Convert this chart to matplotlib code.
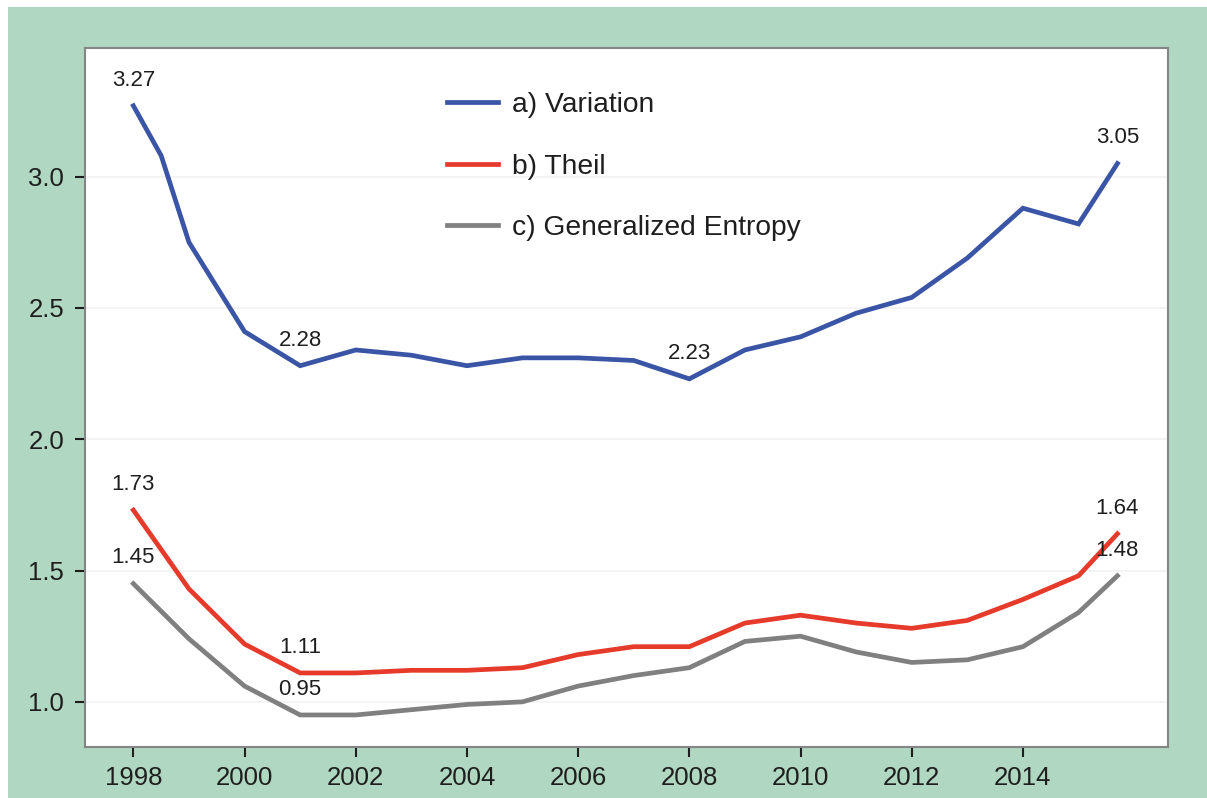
import matplotlib
matplotlib.use('Agg')
import matplotlib.pyplot as plt
from matplotlib.patches import Rectangle

# data
years_var = [1998, 1998.5, 1999, 2000, 2001, 2002, 2003, 2004, 2005, 2006, 2007,
             2008, 2009, 2010, 2011, 2012, 2013, 2014, 2015, 2015.7]
variation = [3.27, 3.08, 2.75, 2.41, 2.28, 2.34, 2.32, 2.28, 2.31, 2.31, 2.30,
             2.23, 2.34, 2.39, 2.48, 2.54, 2.69, 2.88, 2.82, 3.05]

years = [1998, 1999, 2000, 2001, 2002, 2003, 2004, 2005, 2006, 2007, 2008,
         2009, 2010, 2011, 2012, 2013, 2014, 2015, 2015.7]
theil = [1.73, 1.43, 1.22, 1.11, 1.11, 1.12, 1.12, 1.13, 1.18, 1.21, 1.21,
         1.30, 1.33, 1.30, 1.28, 1.31, 1.39, 1.48, 1.64]
gen_entropy = [1.45, 1.24, 1.06, 0.95, 0.95, 0.97, 0.99, 1.00, 1.06, 1.10, 1.13,
               1.23, 1.25, 1.19, 1.15, 1.16, 1.21, 1.34, 1.48]

labels = ['a) Variation', 'b) Theil', 'c) Generalized Entropy']
colors = ['#3b55a6', '#e63a2b', '#808080']

# which points get a value label (index into each series)
marked_var = [0, 4, 11, 19]
marked_theil = [0, 3, 18]
marked_ge = [0, 3, 18]

x_ticks = list(range(1998, 2015, 2))
y_ticks = [1.0, 1.5, 2.0, 2.5, 3.0]

plt.rcParams['font.family'] = ['Liberation Sans', 'DejaVu Sans']

fig = plt.figure(figsize=(12.07, 7.98), dpi=100, facecolor='white')
fig.patches.append(Rectangle((8 / 1207, 0), 1, 1 - 7 / 798, transform=fig.transFigure,
                             facecolor='#b0d7c1', edgecolor='none', zorder=-10))
ax = fig.add_axes([85 / 1207, 1 - 747 / 798, 1083 / 1207, 699 / 798])
ax.set_facecolor('white')

series = [(years_var, variation, marked_var),
          (years, theil, marked_theil),
          (years, gen_entropy, marked_ge)]
for (xs, ys, marks), lab, col in zip(series, labels, colors):
    ax.plot(xs, ys, color=col, lw=3.4, label=lab, solid_joinstyle='miter', zorder=3)
    for i in marks:
        ax.annotate(f'{ys[i]:.2f}', (xs[i], ys[i]), xytext=(0, 18.5),
                    textcoords='offset points', ha='center', va='center',
                    fontsize=16, color='#1e1e1e', zorder=4)

ax.set_xlim(1997.13, 2016.61)
ax.set_ylim(0.828, 3.49)
ax.set_xticks(x_ticks)
ax.set_yticks(y_ticks)
ax.set_yticklabels([f'{v:.1f}' for v in y_ticks])
ax.grid(axis='y', color='#f2f2f2', lw=1.2, zorder=0)
ax.tick_params(direction='out', length=7, width=1.5, color='#1e1e1e',
               labelsize=18.5, labelcolor='#1e1e1e', pad=7)
ax.tick_params(axis='y', pad=8)
for sp in ax.spines.values():
    sp.set_color('#858585')
    sp.set_linewidth(1.5)

ax.legend(loc='upper left', bbox_to_anchor=(0.334, 0.937), frameon=False,
          fontsize=20.3, handlelength=1.81, handletextpad=0.5, labelspacing=1.26,
          borderpad=0, borderaxespad=0, labelcolor='#1e1e1e')

fig.savefig('out.png', dpi=100, facecolor=fig.get_facecolor())
